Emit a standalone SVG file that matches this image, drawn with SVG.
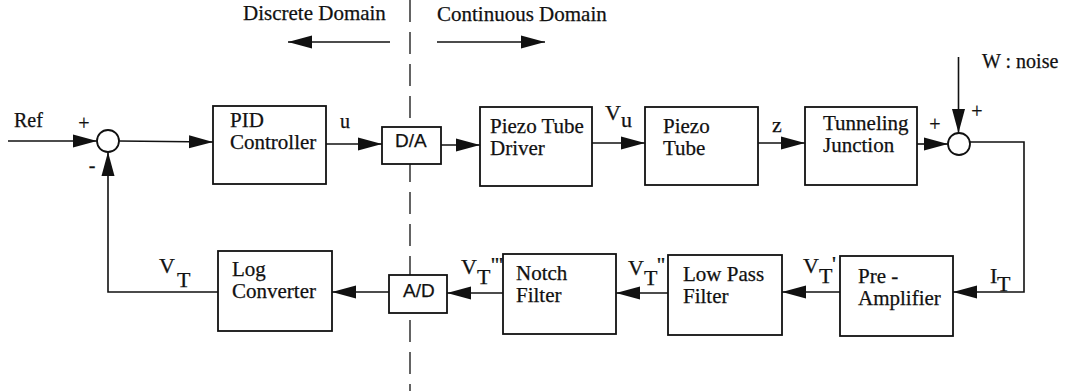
<svg xmlns="http://www.w3.org/2000/svg" width="1065" height="391" viewBox="0 0 1065 391" font-family="'Liberation Serif', 'Times New Roman', 'DejaVu Serif', serif">
<style>
  .box { fill: #fff; stroke: #111; stroke-width: 1.8; }
  .sum { fill: #fff; stroke: #111; stroke-width: 1.8; }
  .wire { fill: none; stroke: #111; stroke-width: 1.6; }
  .dash { fill: none; stroke: #111; stroke-width: 1.3; stroke-dasharray: 22 10; }
  .serif { font-family: 'Liberation Serif', 'Times New Roman', 'DejaVu Serif', serif; fill: #111; stroke: #111; stroke-width: 0.25; }
  .bt { font-size: 21px; }
  .lb { font-size: 22px; }
  .sm { font-size: 20px; }
  .sans { font-family: 'Liberation Sans', Arial, sans-serif; font-size: 19px; fill: #111; stroke: #111; stroke-width: 0.25; }
</style>
<defs>
  <marker id="ah" markerUnits="userSpaceOnUse" markerWidth="24" markerHeight="14" refX="24" refY="7" orient="auto">
    <path d="M0,0.5 L24,7 L0,13.5 Z" fill="#111"/>
  </marker>
</defs>

<g id="domain">
  <line class="dash" x1="410" y1="0" x2="410" y2="391"/>
  <text class="serif bt" x="243" y="20">Discrete Domain</text>
  <text class="serif bt" x="437" y="21">Continuous Domain</text>
  <line class="wire" x1="390" y1="42" x2="288" y2="42" marker-end="url(#ah)"/>
  <line class="wire" x1="437" y1="42" x2="545" y2="42" marker-end="url(#ah)"/>
</g>

<g id="connectors">
  <path class="wire" d="M8,141 L97,141" marker-end="url(#ah)"/>
  <path class="wire" d="M119,141 L213,142" marker-end="url(#ah)"/>
  <path class="wire" d="M326,144 L382,144" marker-end="url(#ah)"/>
  <path class="wire" d="M441,145 L480,145" marker-end="url(#ah)"/>
  <path class="wire" d="M592,143 L645,143" marker-end="url(#ah)"/>
  <path class="wire" d="M758,143 L805,143" marker-end="url(#ah)"/>
  <path class="wire" d="M917,144 L948,144" marker-end="url(#ah)"/>
  <path class="wire" d="M958.5,57 L958.5,133" marker-end="url(#ah)"/>
  <path class="wire" d="M970,142 L1024,142 L1024,292 L953,292" marker-end="url(#ah)"/>
  <path class="wire" d="M840,292 L782,292" marker-end="url(#ah)"/>
  <path class="wire" d="M668,293 L616,293" marker-end="url(#ah)"/>
  <path class="wire" d="M503,293 L447,293" marker-end="url(#ah)"/>
  <path class="wire" d="M389,292 L332,292" marker-end="url(#ah)"/>
  <path class="wire" d="M218,292 L108,292 L108,152" marker-end="url(#ah)"/>
</g>

<g id="sum1">
  <circle class="sum" cx="108" cy="141" r="11"/>
  <text class="serif sm" x="84" y="130" text-anchor="middle">+</text>
  <text class="serif sm" x="92" y="172" text-anchor="middle">-</text>
</g>
<g id="sum2">
  <circle class="sum" cx="959" cy="144" r="11"/>
  <text class="serif sm" x="935" y="131" text-anchor="middle">+</text>
  <text class="serif sm" x="977" y="118" text-anchor="middle">+</text>
</g>

<g id="ref"><text class="serif sm" x="14" y="127">Ref</text></g>
<g id="noise"><text class="serif sm" x="982" y="68">W : noise</text></g>

<g id="pid">
  <rect class="box" x="213" y="106" width="113" height="78"/>
  <text class="serif bt" x="230" y="127">PID</text>
  <text class="serif bt" x="230" y="149">Controller</text>
</g>
<g id="da">
  <rect class="box" x="382" y="127" width="59" height="37"/>
  <text class="sans" x="395" y="147">D/A</text>
</g>
<g id="driver">
  <rect class="box" x="480" y="107" width="112" height="79"/>
  <text class="serif bt" x="490" y="133">Piezo Tube</text>
  <text class="serif bt" x="490" y="155">Driver</text>
</g>
<g id="piezo">
  <rect class="box" x="645" y="107" width="113" height="78"/>
  <text class="serif bt" x="663" y="133">Piezo</text>
  <text class="serif bt" x="663" y="155">Tube</text>
</g>
<g id="tunnel">
  <rect class="box" x="805" y="107" width="112" height="78"/>
  <text class="serif bt" x="823" y="130">Tunneling</text>
  <text class="serif bt" x="823" y="152">Junction</text>
</g>
<g id="preamp">
  <rect class="box" x="840" y="256" width="113" height="80"/>
  <text class="serif bt" x="858" y="283">Pre -</text>
  <text class="serif bt" x="858" y="305">Amplifier</text>
</g>
<g id="lpf">
  <rect class="box" x="668" y="255" width="114" height="80"/>
  <text class="serif bt" x="683" y="281">Low Pass</text>
  <text class="serif bt" x="683" y="303">Filter</text>
</g>
<g id="notch">
  <rect class="box" x="503" y="254" width="113" height="80"/>
  <text class="serif bt" x="516" y="280">Notch</text>
  <text class="serif bt" x="516" y="302">Filter</text>
</g>
<g id="ad">
  <rect class="box" x="389" y="275" width="58" height="38"/>
  <text class="sans" x="403" y="297">A/D</text>
</g>
<g id="log">
  <rect class="box" x="218" y="251" width="114" height="80"/>
  <text class="serif bt" x="232" y="276">Log</text>
  <text class="serif bt" x="232" y="298">Converter</text>
</g>

<g id="labels">
  <text class="serif sm" x="340" y="128">u</text>
  <text class="serif lb" x="605" y="120">V</text>
  <text class="serif lb" x="621" y="127">u</text>
  <text class="serif lb" x="772" y="132">z</text>
  <text class="serif lb" x="990" y="283">I</text>
  <text class="serif lb" x="997" y="291">T</text>
  <text class="serif lb" x="803" y="273">V</text>
  <text class="serif lb" x="819" y="283">T</text>
  <text class="serif lb" x="832" y="271">'</text>
  <text class="serif lb" x="628" y="275">V</text>
  <text class="serif lb" x="644" y="285">T</text>
  <text class="serif lb" x="657" y="272">''</text>
  <text class="serif lb" x="461" y="274">V</text>
  <text class="serif lb" x="477" y="284">T</text>
  <text class="serif lb" x="491" y="272">'''</text>
  <text class="serif lb" x="159" y="273">V</text>
  <text class="serif lb" x="177" y="287">T</text>
</g>
</svg>
